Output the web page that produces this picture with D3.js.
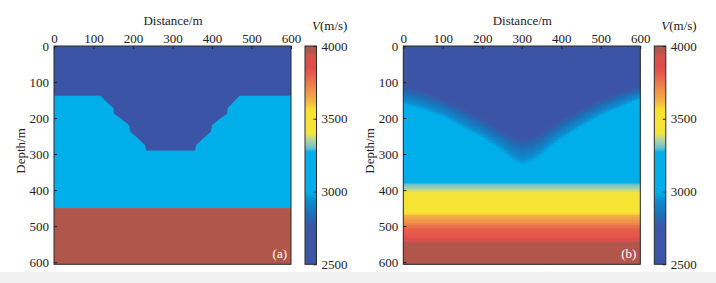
<!DOCTYPE html>
<html><head><meta charset="utf-8">
<script src="https://cdn.jsdelivr.net/npm/d3@7"></script>
<style>
html,body{margin:0;padding:0;background:#fff;}
svg{display:block;font-family:"Liberation Serif","Times New Roman",serif;}
</style></head>
<body><svg id="c" width="716" height="283"></svg>
<script>
// ---------- data ----------
const distTicks = [0, 100, 200, 300, 400, 500, 600];
const depthTicks = [0, 100, 200, 300, 400, 500, 600];
const cbTicks = [2500, 3000, 3500, 4000];
const panelLabels = ["(a)", "(b)"];

// colour map (velocity m/s -> colour)
const cmapValues = [2500, 2760, 2830, 2940, 2990, 3270, 3300, 3360, 3400, 3560, 3620, 3710, 3800, 3850, 3930, 3960, 4000];
const cmapColors = ["#3c54a5", "#3c56a6", "#1f6cb4", "#0c8dd0", "#00aeea", "#00aeea", "#6cc3cc", "#b8d69a", "#f4e43a", "#f8e22e", "#f3b444", "#ef8a4b", "#e6604a", "#e04d4a", "#d9514a", "#b1564b", "#b0564b"];

// (a) true model: layers
const layerTop = [0, 138, 450];
const layerBase = [138, 450, 606];
const layerVel = [2560, 3100, 4000];
// low-velocity basin outline (distance m, depth m)
const basinX = [117, 130, 150, 152, 172, 190, 193, 210, 230, 233, 357, 360, 378, 397, 400, 417, 438, 440, 455, 472];
const basinZ = [138, 152, 172, 188, 204, 220, 238, 254, 275, 290, 290, 275, 256, 238, 220, 204, 188, 172, 155, 138];
const basinVel = 2560;

// (b) inverted model
const profX = [0, 50, 100, 150, 200, 250, 275, 300, 325, 350, 400, 450, 500, 550, 600];
const lowTop = [108, 122, 145, 170, 198, 230, 245, 252, 248, 236, 202, 172, 145, 125, 110];   // dark blue ends
const lowBase = [165, 180, 200, 230, 258, 295, 320, 335, 325, 305, 262, 228, 196, 172, 150]; // cyan reached
const lowVel = 2560, rampStartVel = 2740, rampEndVel = 3000, midVel = 3100;
const deepZ = [372, 380, 390, 400, 414, 420, 460, 470, 490, 500, 510, 530, 540, 545, 606];
const deepV = [3100, 3280, 3320, 3370, 3420, 3480, 3520, 3620, 3700, 3760, 3800, 3830, 3900, 3960, 4000];

// ---------- drawing ----------
const svg = d3.select("#c");
svg.append("rect").attr("x", 0).attr("y", 272).attr("width", 716).attr("height", 11).attr("fill", "#f1f1f1");

const color = d3.scaleLinear().domain(cmapValues).range(cmapColors).interpolate(d3.interpolateRgb).clamp(true);
const vMin = 2500, vMax = 4000, zMax = 606;
const fmt = d3.format("d");

const defs = svg.append("defs");
const grad = defs.append("linearGradient").attr("id", "cbg").attr("x1", 0).attr("y1", 1).attr("x2", 0).attr("y2", 0);
cmapValues.forEach((v, i) => grad.append("stop").attr("offset", (v - vMin) / (vMax - vMin)).attr("stop-color", cmapColors[i]));

const panels = [{left: 54, right: 291}, {left: 403.3, right: 640.3}];
const plotTop = 46, plotBottom = 264.3;

function piecewise(xs, ys) { return d3.scaleLinear().domain(xs).range(ys).clamp(true); }

panels.forEach((p, pi) => {
  const x = d3.scaleLinear().domain([0, 600]).range([p.left, p.right]);
  const y = d3.scaleLinear().domain([0, zMax]).range([plotTop, plotBottom]);
  const g = svg.append("g");
  const clipId = "clip" + pi;
  defs.append("clipPath").attr("id", clipId).append("rect")
    .attr("x", p.left).attr("y", plotTop).attr("width", p.right - p.left).attr("height", plotBottom - plotTop);
  const plot = g.append("g").attr("clip-path", `url(#${clipId})`);

  if (pi === 0) {
    plot.selectAll("rect.layer").data(layerVel).join("rect").attr("class", "layer")
      .attr("x", x(0)).attr("width", x(600) - x(0))
      .attr("y", (d, i) => y(layerTop[i])).attr("height", (d, i) => y(layerBase[i]) - y(layerTop[i]) + 0.5)
      .attr("fill", d => color(d));
    const pts = basinX.map((bx, i) => [x(bx), y(basinZ[i])]);
    pts[0][1] -= 0.6; pts[pts.length - 1][1] -= 0.6;
    plot.append("path").attr("d", d3.line()(pts) + "Z").attr("fill", color(basinVel));
  } else {
    plot.attr("shape-rendering", "crispEdges");
    const topF = piecewise(profX, lowTop), baseF = piecewise(profX, lowBase), deepF = piecewise(deepZ, deepV);
    const dx = 5, dz = 2;
    const cells = [];
    for (let cx = 0; cx < 600; cx += dx) {
      const xm = cx + dx / 2, t = topF(xm), b = baseF(xm);
      for (let cz = 0; cz < zMax; cz += dz) {
        const zm = cz + dz / 2;
        let v;
        if (zm >= deepZ[0]) v = deepF(zm);
        else if (zm < t) v = lowVel;
        else if (zm < b) v = rampStartVel + (rampEndVel - rampStartVel) * (zm - t) / (b - t);
        else v = midVel;
        cells.push({cx, cz, v});
      }
    }
    plot.selectAll("rect.cell").data(cells).join("rect").attr("class", "cell")
      .attr("x", d => x(d.cx)).attr("y", d => y(d.cz))
      .attr("width", x(dx) - x(0) + 1).attr("height", y(dz) - y(0) + 1)
      .attr("fill", d => color(d.v));
  }

  g.append("rect").attr("x", p.left).attr("y", plotTop).attr("width", p.right - p.left).attr("height", plotBottom - plotTop)
    .attr("fill", "none").attr("stroke", "#2a2a2a").attr("stroke-width", 1);

  const ax = g.append("g").attr("transform", `translate(0,${plotTop})`)
    .call(d3.axisTop(x).tickValues(distTicks).tickFormat(fmt).tickSize(-3).tickSizeOuter(0).tickPadding(3.5));
  const ay = g.append("g").attr("transform", `translate(${p.left},0)`)
    .call(d3.axisLeft(y).tickValues(depthTicks).tickFormat(fmt).tickSize(-3).tickSizeOuter(0).tickPadding(5));
  [ax, ay].forEach(a => {
    a.select(".domain").remove();
    a.selectAll("line").attr("stroke", "#222");
    a.selectAll("text").attr("font-size", 13).attr("fill", "#222").attr("font-family", "Liberation Serif");
  });

  g.append("text").attr("x", (p.left + p.right) / 2 + 0.5).attr("y", 25).attr("text-anchor", "middle")
    .attr("font-size", 13).attr("fill", "#222").text("Distance/m");
  g.append("text").attr("transform", `translate(${p.left - 29.5},151) rotate(-90)`).attr("text-anchor", "middle")
    .attr("font-size", 13).attr("fill", "#222").text("Depth/m");
  g.append("text").attr("x", p.right - 4).attr("y", 258).attr("text-anchor", "end")
    .attr("font-size", 13).attr("fill", "#fff").text(panelLabels[pi]);

  const cbx = p.right + 14, cbw = 11.5;
  const cy = d3.scaleLinear().domain([vMin, vMax]).range([plotBottom, plotTop]);
  g.append("rect").attr("x", cbx).attr("y", plotTop).attr("width", cbw).attr("height", plotBottom - plotTop)
    .attr("fill", "url(#cbg)").attr("stroke", "#2a2a2a").attr("stroke-width", 1);
  const ac = g.append("g").attr("transform", `translate(${cbx + cbw},0)`)
    .call(d3.axisRight(cy).tickValues(cbTicks).tickFormat(fmt).tickSize(-3).tickSizeOuter(0).tickPadding(5));
  ac.select(".domain").remove();
  ac.selectAll("line").attr("stroke", "#222");
  ac.selectAll("text").attr("font-size", 13).attr("fill", "#222").attr("font-family", "Liberation Serif");
  const vt = g.append("text").attr("x", cbx + 7).attr("y", 30).attr("font-size", 13).attr("fill", "#222");
  vt.append("tspan").attr("font-style", "italic").text("V");
  vt.append("tspan").text("(m/s)");
});
</script></body></html>
